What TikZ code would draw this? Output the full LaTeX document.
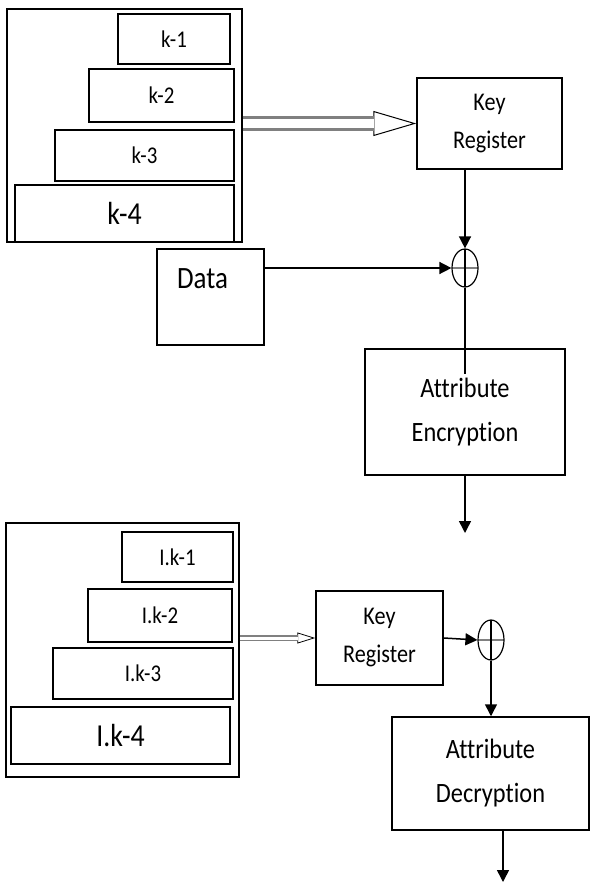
\documentclass[tikz,border=0pt]{standalone}
\usepackage{fontspec}
\setmainfont[FakeStretch=0.87,Ligatures=NoCommon]{Carlito}
\usetikzlibrary{arrows.meta,shapes.geometric,calc}
\begin{document}
\begin{tikzpicture}[x=1pt,y=-1pt,line width=1.5pt,>={Triangle[length=12pt,width=12pt]},
  box/.style={draw,rectangle,inner sep=0pt},
  slot/.style={box,font=\fontsize{24}{24}\selectfont},
  bigslot/.style={box,font=\fontsize{32}{32}\selectfont},
  unit/.style={box,align=center,font=\fontsize{25.5}{38}\selectfont},
  xorop/.style={draw,ellipse,line width=1.2pt,inner sep=0pt,minimum width=26pt,minimum height=38pt,
    path picture={\draw[gray,line width=2.5pt] (path picture bounding box.west) -- (path picture bounding box.east);
      \draw[line width=1.3pt] (path picture bounding box.north) -- (path picture bounding box.south);}}]
\useasboundingbox (0,0) rectangle (590,883);
\node[box,minimum width=235,minimum height=233] (keys) at (124.5,125.5) {};
\node[slot,minimum width=112,minimum height=50] (k1) at (174,39) {k-1};
\node[slot,minimum width=145,minimum height=53] (k2) at (161.5,95.5) {k-2};
\node[slot,minimum width=179,minimum height=51] (k3) at (144.5,155.5) {k-3};
\node[bigslot,minimum width=219,minimum height=57] (k4) at (124.5,213.5) {k-4};
\node[unit,minimum width=145,minimum height=91] (kreg1) at (489.5,123.5) {Key\\Register};
\node[xorop] (xor1) at (465,268) {};
\node[box,minimum width=107,minimum height=96,label={[font=\fontsize{31}{31}\selectfont,anchor=center,xshift=-8pt,yshift=-30pt]north:Data}] (data) at (210.5,297) {};
\node[unit,font=\fontsize{28}{44}\selectfont,minimum width=200,minimum height=126] (enc) at (465,412) {Attribute\\Encryption};
\coordinate (encout) at (465,533);
\draw[->] (xor1.north |- kreg1.south) -- (xor1.north);
\draw[->] (data.east |- xor1.west) -- (xor1.west);
\draw (xor1.south) -- ([yshift=-26pt]xor1.south |- enc.north);
\draw[->] (enc.south) -- (encout);
\draw[-{Triangle[open,length=43pt,width=25pt]},line width=1pt] ([xshift=-43pt]kreg1.west) -- (kreg1.west);
\draw[gray,line width=3pt,double=white,double distance=9pt,shorten >=42pt] (keys.east |- kreg1.west) -- (kreg1.west);
\node[box,minimum width=233,minimum height=254] (lkeys) at (122.5,650) {};
\node[slot,minimum width=111,minimum height=50] (lk1) at (177.5,557) {I.k-1};
\node[slot,minimum width=144,minimum height=53] (lk2) at (160,615.5) {I.k-2};
\node[slot,minimum width=180,minimum height=51] (lk3) at (143,673.5) {I.k-3};
\node[bigslot,minimum width=219,minimum height=57] (lk4) at (120.5,735.5) {I.k-4};
\node[unit,minimum width=127,minimum height=94] (kreg2) at (379.5,638) {Key\\Register};
\node[xorop,minimum height=40pt] (xor2) at (491,640) {};
\node[unit,font=\fontsize{28}{44}\selectfont,minimum width=197,minimum height=113] (dec) at (490.5,773.5) {Attribute\\Decryption};
\coordinate (decout) at (503,882);
\draw[->] (kreg2.east) -- (xor2.west);
\draw[->] (xor2.south) -- (xor2.south |- dec.north);
\draw[->] (dec.south -| decout) -- (decout);
\draw[-{Triangle[open,length=18pt,width=11pt]},line width=0.8pt] ([xshift=-18pt]kreg2.west) -- (kreg2.west);
\draw[gray,line width=1.3pt,double=white,double distance=3pt,shorten >=17pt] (lkeys.east |- kreg2.west) -- (kreg2.west);
\end{tikzpicture}
\end{document}
